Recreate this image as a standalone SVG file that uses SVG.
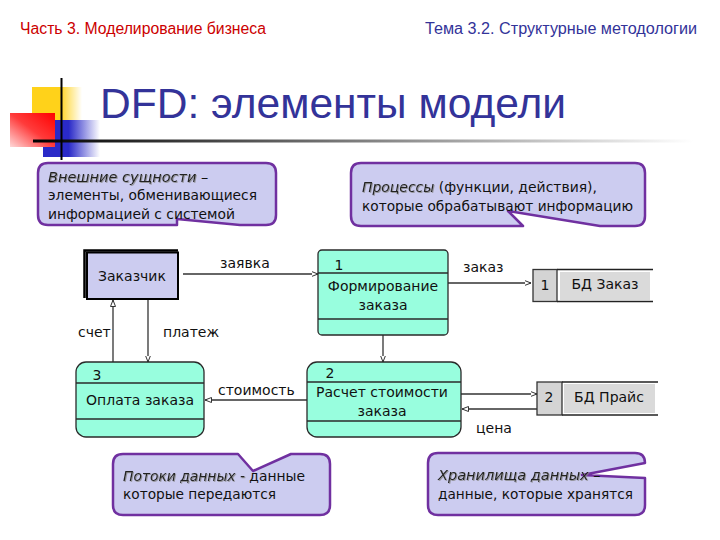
<svg xmlns="http://www.w3.org/2000/svg" width="720" height="540" viewBox="0 0 720 540">
<style>
.hdr{font-family:"Liberation Sans",Arial,sans-serif;font-size:16px}
.title{font-family:"Liberation Sans",Arial,sans-serif;font-size:42px;fill:#333399}
.co{fill:#ccccf0;stroke:#7030a0;stroke-width:2.5;stroke-linejoin:round}
.ct{font-family:"DejaVu Sans",Verdana,sans-serif;font-size:14.5px;fill:#111}
.em{font-style:italic;fill:#222;filter:url(#sh)}
.lbl{font-family:"DejaVu Sans",Verdana,sans-serif;font-size:14px;fill:#111}
.proc{fill:#98fede;stroke:#2a2a2a;stroke-width:1.3}
.div{stroke:#2a2a2a;stroke-width:1.3}
.flow{stroke:#333;stroke-width:1.3;fill:none;marker-end:url(#arr)}
.st-num{fill:#d4d4d4;stroke:#333;stroke-width:1.3}
.st-lab{fill:#dadada}
.st-line{stroke:#222;stroke-width:1.3}
</style>
<defs>
<marker id="arr" markerUnits="userSpaceOnUse" markerWidth="8" markerHeight="8" refX="6.5" refY="3" orient="auto">
<path d="M0,0.5 L6.5,3 L0,5.5 Z" fill="#fff" stroke="#333" stroke-width="1"/>
</marker>
<filter id="sh" x="-5%" y="-20%" width="110%" height="150%">
<feDropShadow dx="0.8" dy="0.8" stdDeviation="0.3" flood-color="#888"/>
</filter>
<linearGradient id="hl" x1="0" x2="1" y1="0" y2="0">
<stop offset="0" stop-color="#000"/>
<stop offset="1" stop-color="#fff"/>
</linearGradient>
<linearGradient id="yel" x1="0" x2="1" y1="0" y2="0">
<stop offset="0" stop-color="#ffd21a"/>
<stop offset="0.55" stop-color="#ffd21a"/>
<stop offset="1" stop-color="#fff"/>
</linearGradient>
<linearGradient id="red" x1="1" x2="0" y1="0" y2="1">
<stop offset="0" stop-color="#ff0000"/>
<stop offset="0.5" stop-color="#ff3b3b"/>
<stop offset="1" stop-color="#ffd8d8"/>
</linearGradient>
<linearGradient id="blu" x1="0" x2="1" y1="0" y2="0">
<stop offset="0" stop-color="#2a2ac8"/>
<stop offset="0.45" stop-color="#2a2ac8"/>
<stop offset="1" stop-color="#fff"/>
</linearGradient>
</defs>
<rect width="720" height="540" fill="#fff"/>

<g id="header">
<text class="hdr" x="20" y="34" fill="#cc0000" textLength="246" lengthAdjust="spacingAndGlyphs">Часть 3. Моделирование бизнеса</text>
<text class="hdr" x="425" y="34" fill="#333399" textLength="272" lengthAdjust="spacingAndGlyphs">Тема 3.2. Структурные методологии</text>
</g>

<g id="logo">
<rect x="32" y="87" width="50" height="33" fill="url(#yel)"/>
<rect x="43" y="120" width="57" height="37" fill="url(#blu)"/>
<rect x="10" y="113" width="45" height="34" fill="url(#red)"/>
<rect x="33" y="139.5" width="660" height="3" fill="url(#hl)"/>
<rect x="60.5" y="78" width="2" height="82" fill="#000"/>
</g>

<text id="title" class="title" x="100" y="118" textLength="466" lengthAdjust="spacingAndGlyphs">DFD: элементы модели</text>

<g id="callout-entities">
<path class="co" d="M48,163 H266 Q276,163 276,173 V215 Q276,225 266,225 H240 L177,219 L177,225 H48 Q38,225 38,215 V173 Q38,163 48,163 Z"/>
<text class="ct" x="48" y="182" font-size="14"><tspan class="em">Внешние сущности</tspan> –</text>
<text class="ct" x="48" y="200" textLength="209" lengthAdjust="spacingAndGlyphs">элементы, обменивающиеся</text>
<text class="ct" x="48" y="219" textLength="187" lengthAdjust="spacingAndGlyphs">информацией с системой</text>
</g>

<g id="callout-processes">
<path class="co" d="M361,163 H635 Q645,163 645,173 V216 Q645,226 635,226 H600 L508,211 L523,226 H361 Q351,226 351,216 V173 Q351,163 361,163 Z"/>
<text class="ct" x="362" y="192" textLength="235" lengthAdjust="spacingAndGlyphs"><tspan class="em">Процессы</tspan> (функции, действия),</text>
<text class="ct" x="362" y="211" textLength="271" lengthAdjust="spacingAndGlyphs">которые обрабатывают информацию</text>
</g>

<g id="callout-flows">
<path class="co" d="M123,454 H238 L253,471 L291,454 H320 Q330,454 330,464 V505 Q330,515 320,515 H123 Q113,515 113,505 V464 Q113,454 123,454 Z"/>
<text class="ct" x="123" y="481" textLength="182" lengthAdjust="spacingAndGlyphs"><tspan class="em">Потоки данных -</tspan> данные</text>
<text class="ct" x="123" y="499" textLength="153" lengthAdjust="spacingAndGlyphs">которые передаются</text>
</g>

<g id="callout-stores">
<path class="co" d="M438,453 H635 Q645,453 645,463 L582,475 L645,478 V505 Q645,515 635,515 H438 Q428,515 428,505 V463 Q428,453 438,453 Z"/>
<text class="ct" x="438" y="480" font-size="14"><tspan class="em">Хранилища данных</tspan> –</text>
<text class="ct" x="438" y="499" textLength="195" lengthAdjust="spacingAndGlyphs">данные, которые хранятся</text>
</g>

<g id="connectors">
<path class="flow" d="M183,274 H318"/>
<path class="flow" d="M448,283 H531"/>
<path class="flow" d="M383,335 V362"/>
<path class="flow" d="M307,400 H205"/>
<path class="flow" d="M113,362 V300"/>
<path class="flow" d="M148,300 V362"/>
<path class="flow" d="M461,394 H537"/>
<path class="flow" d="M537,409 H462"/>
<text class="lbl" x="220" y="268">заявка</text>
<text class="lbl" x="463" y="272">заказ</text>
<text class="lbl" x="218" y="395">стоимость</text>
<text class="lbl" x="78" y="337">счет</text>
<text class="lbl" x="163" y="337">платеж</text>
<text class="lbl" x="476" y="433">цена</text>
</g>

<g id="customer">
<rect x="87" y="252.5" width="91" height="46.5" fill="#ccccf0" stroke="#000" stroke-width="2"/>
<path d="M84.5,298 V250.5 H178" fill="none" stroke="#000" stroke-width="2.5"/>
<text class="lbl" x="132" y="281" text-anchor="middle" font-size="15">Заказчик</text>
</g>

<g id="process-1">
<rect class="proc" x="318" y="250" width="130" height="85" rx="4"/>
<line class="div" x1="318" y1="273" x2="448" y2="273"/>
<line class="div" x1="318" y1="319" x2="448" y2="319"/>
<text class="lbl" x="339" y="270" text-anchor="middle">1</text>
<text class="lbl" x="383" y="291" text-anchor="middle">Формирование</text>
<text class="lbl" x="383" y="310" text-anchor="middle">заказа</text>
</g>

<g id="process-2">
<rect class="proc" x="307" y="362" width="154" height="75" rx="10"/>
<line class="div" x1="307" y1="382" x2="461" y2="382"/>
<line class="div" x1="307" y1="421" x2="461" y2="421"/>
<text class="lbl" x="330" y="378" text-anchor="middle">2</text>
<text class="lbl" x="382" y="397" text-anchor="middle">Расчет стоимости</text>
<text class="lbl" x="382" y="416" text-anchor="middle">заказа</text>
</g>

<g id="process-3">
<rect class="proc" x="76" y="362" width="128" height="75" rx="10"/>
<line class="div" x1="76" y1="383" x2="204" y2="383"/>
<line class="div" x1="76" y1="419" x2="204" y2="419"/>
<text class="lbl" x="97" y="380" text-anchor="middle">3</text>
<text class="lbl" x="140" y="405" text-anchor="middle">Оплата заказа</text>
</g>

<g id="store-1">
<rect class="st-lab" x="560" y="272" width="90" height="28"/>
<rect class="st-num" x="533" y="269.5" width="24" height="32"/>
<line class="st-line" x1="557" y1="269.5" x2="653" y2="269.5"/>
<line class="st-line" x1="557" y1="301.5" x2="653" y2="301.5"/>
<text class="lbl" x="545" y="290" text-anchor="middle">1</text>
<text class="lbl" x="605" y="289" text-anchor="middle">БД Заказ</text>
</g>

<g id="store-2">
<rect class="st-lab" x="564" y="384" width="91" height="29"/>
<rect class="st-num" x="537" y="382" width="25" height="33"/>
<line class="st-line" x1="562" y1="382" x2="658" y2="382"/>
<line class="st-line" x1="562" y1="415" x2="658" y2="415"/>
<text class="lbl" x="549" y="402" text-anchor="middle">2</text>
<text class="lbl" x="609" y="402" text-anchor="middle">БД Прайс</text>
</g>
</svg>
